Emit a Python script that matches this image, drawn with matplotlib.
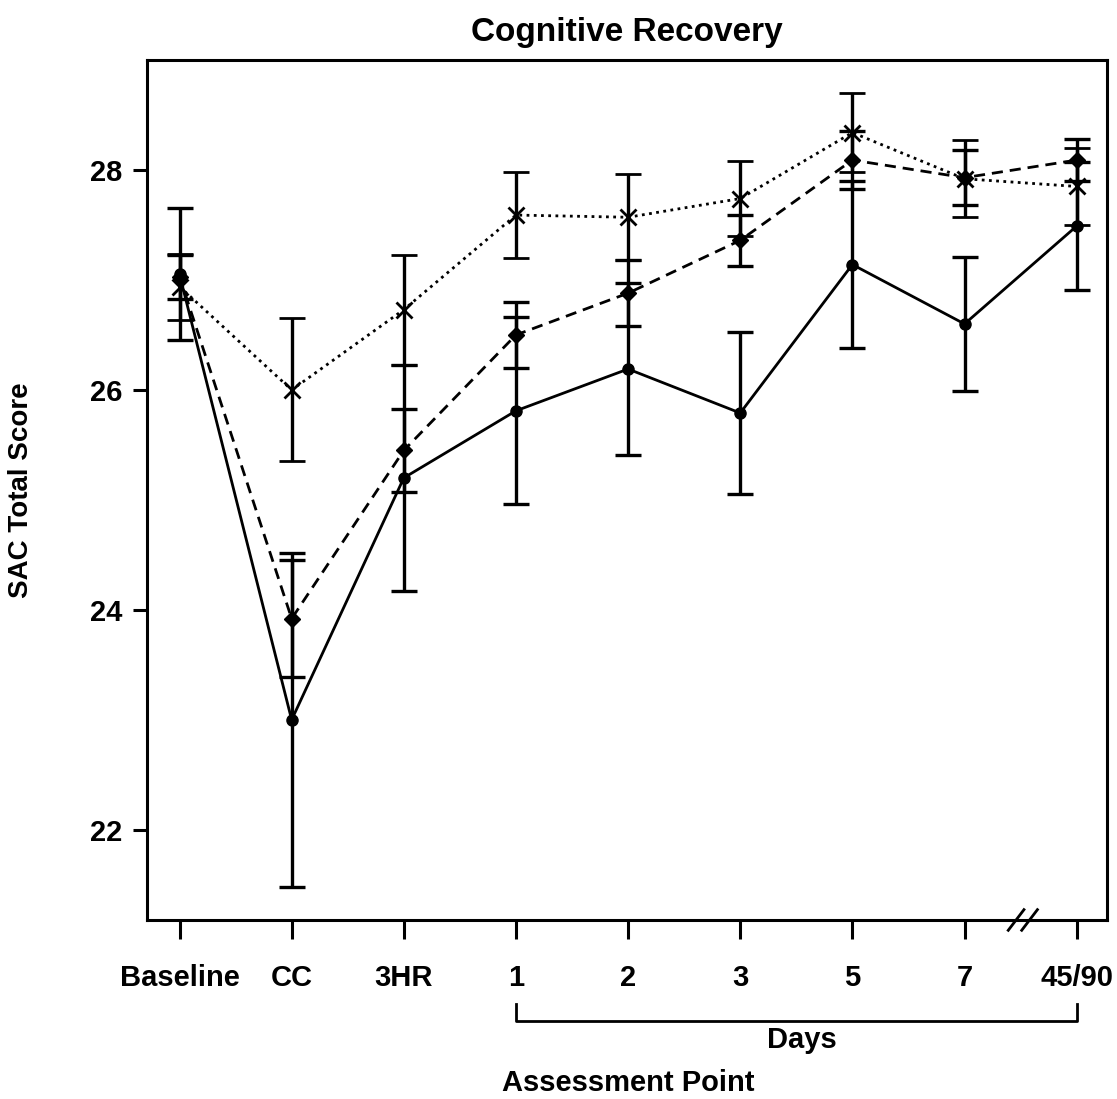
import numpy as np
import matplotlib.pyplot as plt
from matplotlib.lines import Line2D

# ---- data ----
labels = ['Baseline', 'CC', '3HR', '1', '2', '3', '5', '7', '45/90']

solid_mean = [27.05, 23.00, 25.20, 25.81, 26.19, 25.79, 27.14, 26.60, 27.49]
solid_err = [0.60, 1.52, 1.03, 0.85, 0.78, 0.74, 0.76, 0.61, 0.58]

dashed_mean = [27.03, 23.92, 25.45, 26.50, 26.88, 27.36, 28.09, 27.93, 28.09]
dashed_err = [0.20, 0.53, 0.38, 0.30, 0.30, 0.23, 0.26, 0.25, 0.19]

dotted_mean = [26.94, 26.00, 26.73, 27.59, 27.57, 27.74, 28.34, 27.92, 27.85]
dotted_err = [0.30, 0.65, 0.50, 0.39, 0.39, 0.34, 0.36, 0.35, 0.35]

plt.rcParams['font.family'] = ['Liberation Sans Narrow', 'Liberation Sans', 'DejaVu Sans']

fig = plt.figure(figsize=(11.17, 10.99), dpi=100)
ax = fig.add_axes([0.1316, 0.1629, 0.8594, 0.7825])

x = np.arange(len(labels))
lw = 2.0
ekw = dict(color='black', elinewidth=2.4, capsize=9.5, capthick=2.4)

ax.errorbar(x, dotted_mean, yerr=dotted_err, fmt='x', linestyle=(0, (1, 1.6)),
            lw=lw, ms=12, mew=2, **ekw)
ax.errorbar(x, dashed_mean, yerr=dashed_err, fmt='D', linestyle=(0, (4, 2.5)),
            lw=lw, ms=8, mfc='black', **ekw)
ax.errorbar(x, solid_mean, yerr=solid_err, fmt='o', linestyle='-',
            lw=lw, ms=8, **ekw)

ax.set_xlim(-0.29, 8.27)
ax.set_ylim(21.18, 29.0)
ax.set_yticks([22, 24, 26, 28])
ax.set_xticks(x)
ax.set_xticklabels(labels)

for s in ax.spines.values():
    s.set_linewidth(2.2)
ax.tick_params(axis='x', length=14, width=2.2, pad=18, labelsize=21)
ax.tick_params(axis='y', length=10, width=2.2, pad=8, labelsize=21)
for t in ax.get_xticklabels() + ax.get_yticklabels():
    t.set_fontweight('bold')

ax.set_title('Cognitive Recovery', fontsize=24, fontweight='bold', pad=14)
ax.set_ylabel('SAC Total Score', fontsize=20, fontweight='bold', labelpad=40)

# axis break marks between 7 and 45/90
trans = ax.get_xaxis_transform()
for xb in [7.46, 7.58]:
    ax.add_line(Line2D([xb - 0.07, xb + 0.07], [-0.012, 0.012], transform=trans,
                       color='black', lw=2, clip_on=False, zorder=4))

# "Days" bracket under ticks 1..45/90
ax.add_line(Line2D([3, 3, 8, 8], [-0.098, -0.117, -0.117, -0.098], transform=trans,
                   color='black', lw=2, clip_on=False))
ax.text(5.55, -0.139, 'Days', transform=trans, ha='center', va='center',
        fontsize=21, fontweight='bold')
ax.text(4.0, -0.1895, 'Assessment Point', transform=trans, ha='center', va='center',
        fontsize=21, fontweight='bold')

plt.savefig('out.png', dpi=100)
